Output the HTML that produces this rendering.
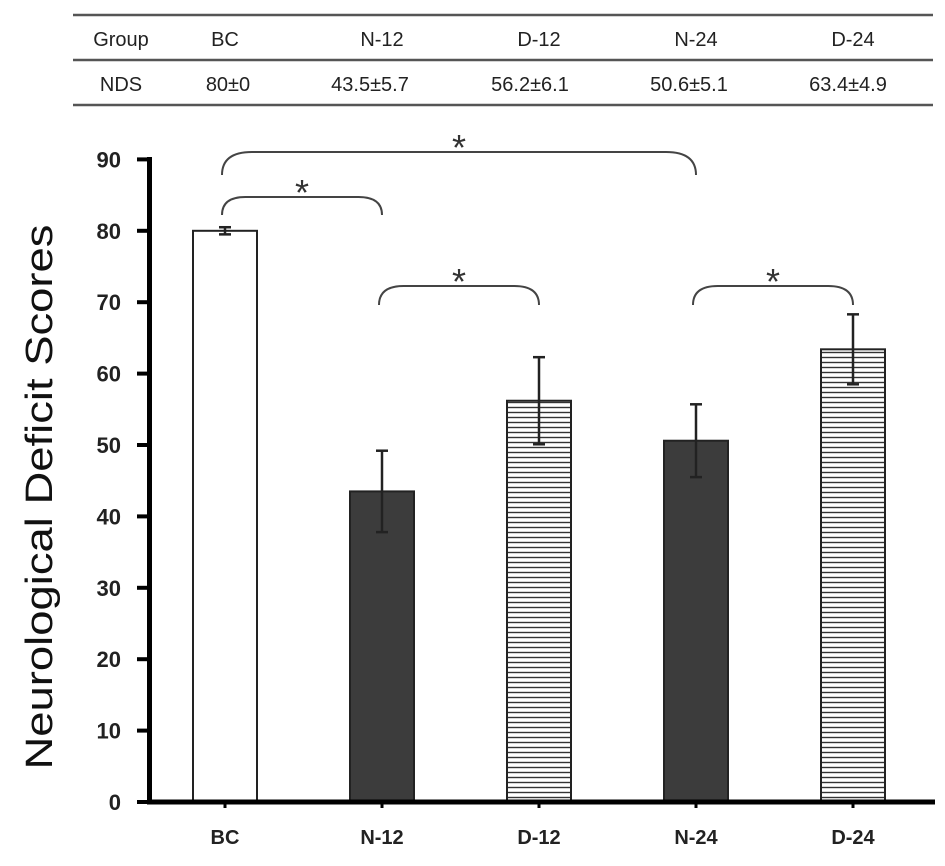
<!DOCTYPE html>
<html><head><meta charset="utf-8">
<style>
html,body{margin:0;padding:0;background:#fff;}
body{width:945px;height:861px;overflow:hidden;font-family:"Liberation Sans","Noto Sans CJK SC",sans-serif;}
</style></head>
<body>
<svg width="945" height="861" viewBox="0 0 945 861" xmlns="http://www.w3.org/2000/svg">
<defs>
<pattern id="hatch" width="6" height="5" patternUnits="userSpaceOnUse">
<rect width="6" height="5" fill="#fff"/>
<line x1="0" y1="2.5" x2="6" y2="2.5" stroke="#333" stroke-width="1.4"/>
</pattern>
</defs>
<g font-family="Liberation Sans, sans-serif" font-size="20" fill="#222" text-anchor="middle">
<line x1="73" y1="15" x2="933" y2="15" stroke="#555" stroke-width="2.5"/>
<line x1="73" y1="60" x2="933" y2="60" stroke="#555" stroke-width="2.5"/>
<line x1="73" y1="105" x2="933" y2="105" stroke="#555" stroke-width="2.5"/>
<text x="121" y="46">Group</text><text x="225" y="46">BC</text><text x="382" y="46">N-12</text><text x="539" y="46">D-12</text><text x="696" y="46">N-24</text><text x="853" y="46">D-24</text>
<text x="121" y="91">NDS</text><text x="228" y="91">80±0</text><text x="370" y="91">43.5±5.7</text><text x="530" y="91">56.2±6.1</text><text x="689" y="91">50.6±5.1</text><text x="848" y="91">63.4±4.9</text>
</g>
<g id="plot"></g>
<text transform="translate(52,497) rotate(-90)" text-anchor="middle" font-size="38" fill="#111" font-family="Liberation Sans, sans-serif" textLength="545" lengthAdjust="spacingAndGlyphs">Neurological Deficit Scores</text>
</svg>
<script>
const categories=["BC","N-12","D-12","N-24","D-24"];
const means=[80,43.5,56.2,50.6,63.4];
const sds=[0.5,5.7,6.1,5.1,4.9];
const yTicks=[0,10,20,30,40,50,60,70,80,90];
const fills=["#fff","#3c3c3c","url(#hatch)","#3c3c3c","url(#hatch)"];
const NS="http://www.w3.org/2000/svg";
const g=document.getElementById('plot');
const y=v=>802-v*7.14;
const x=i=>225+i*157;
const bw=64;
function mk(t,a,p){const e=document.createElementNS(NS,t);for(const k in a)e.setAttribute(k,a[k]);(p||g).appendChild(e);return e;}
yTicks.forEach(t=>{
 const tk=mk('line',{x1:137,x2:150,y1:y(t),y2:y(t),stroke:'#000','stroke-width':4});
 
 
 const tl=mk('text',{x:121,y:y(t)+8,'text-anchor':'end','font-size':22,'font-weight':'bold',fill:'#222'});
 tl.textContent=t;
 
 
});
categories.forEach((c,i)=>{
 const b=mk('rect',{x:x(i)-bw/2,y:y(means[i]),width:bw,height:y(0)-y(means[i]),fill:fills[i],stroke:'#222','stroke-width':2});
 
 
 const eg=mk('g',{stroke:'#222','stroke-width':2.5});
 
 
 mk('line',{x1:x(i),x2:x(i),y1:y(means[i]+sds[i]),y2:y(means[i]-sds[i])},eg);
 mk('line',{x1:x(i)-6,x2:x(i)+6,y1:y(means[i]+sds[i]),y2:y(means[i]+sds[i])},eg);
 mk('line',{x1:x(i)-6,x2:x(i)+6,y1:y(means[i]-sds[i]),y2:y(means[i]-sds[i])},eg);
 const ct=mk('line',{x1:x(i),x2:x(i),y1:802,y2:808,stroke:'#000','stroke-width':3});
 
 
 const xl=mk('text',{x:x(i),y:844,'text-anchor':'middle','font-size':20,'font-weight':'bold',fill:'#222'});
 xl.textContent=c;
 
 
});
const ya=mk('line',{x1:149.5,x2:149.5,y1:157,y2:804,stroke:'#000','stroke-width':5});


const xa=mk('line',{x1:147,x2:935,y1:802,y2:802,stroke:'#000','stroke-width':5});


const brackets=[[0,3,152,175],[0,1,197,215],[1,2,286,305],[3,4,286,305]];
brackets.forEach(br=>{
 const x1=x(br[0])-3,x2=x(br[1]),yl=br[2],ye=br[3],r=Math.min(40,ye-yl);
 const p=mk('path',{d:`M${x1},${ye} Q${x1},${yl} ${x1+r*1.3},${yl} L${x2-r*1.3},${yl} Q${x2},${yl} ${x2},${ye}`,fill:'none',stroke:'#444','stroke-width':2});
 
 
 const s=mk('text',{x:(x1+x2)/2,y:yl+8,'text-anchor':'middle','font-size':36,fill:'#333'});
 s.textContent='*';
 
 
});
</script>
</body></html>
